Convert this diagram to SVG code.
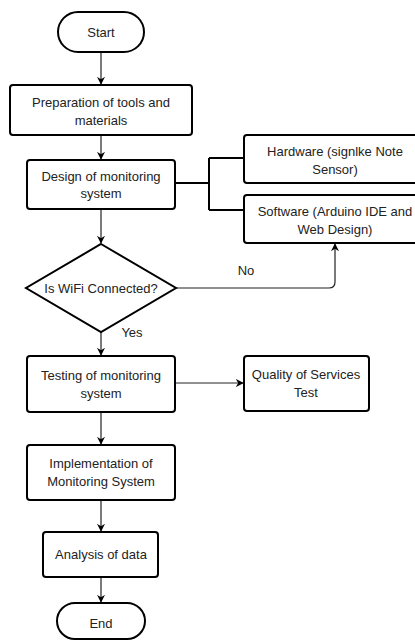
<svg xmlns="http://www.w3.org/2000/svg" width="415" height="641" viewBox="0 0 415 641">
<style>
.n{fill:#fff;stroke:#000;stroke-width:2}
.t{font-family:"Liberation Sans",Arial,sans-serif;font-size:13px;fill:#222;text-anchor:middle}
.c{fill:none;stroke:#222;stroke-width:1.2}
.b{fill:none;stroke:#000;stroke-width:2}
</style>
<defs>
<marker id="a" viewBox="0 0 10 10" refX="9" refY="5" markerWidth="8" markerHeight="8" markerUnits="userSpaceOnUse" orient="auto">
<path d="M0,0 L10,5 L0,10 L3,5 Z" fill="#000"/>
</marker>
</defs>
<rect width="415" height="641" fill="#fff"/>
<g id="connectors">
<path class="c" d="M101,52 V84" marker-end="url(#a)"/>
<path class="c" d="M101,135 V159" marker-end="url(#a)"/>
<path class="c" d="M101,209 V243" marker-end="url(#a)"/>
<path class="c" d="M101,332 V355" marker-end="url(#a)"/>
<path class="c" d="M101,412 V444" marker-end="url(#a)"/>
<path class="c" d="M101,500 V531" marker-end="url(#a)"/>
<path class="c" d="M101,577 V602" marker-end="url(#a)"/>
<path class="c" d="M175,383 H243" marker-end="url(#a)"/>
<path class="b" d="M175,183 H209 M209,158 V210 M209,158 H244 M209,210 H244"/>
<path class="c" d="M176,288 H329 Q335,288 335,282 V244" marker-end="url(#a)"/>
<text class="t" x="246" y="275">No</text>
<text class="t" x="132" y="337">Yes</text>
</g>
<g id="start"><rect class="n" x="58" y="12" width="86" height="40" rx="20"/><text class="t" x="101" y="37">Start</text></g>
<g id="prep"><rect class="n" x="10" y="85" width="182" height="50" rx="3"/><text class="t" x="101" y="107">Preparation of tools and</text><text class="t" x="101" y="125">materials</text></g>
<g id="design"><rect class="n" x="27" y="160" width="148" height="49" rx="3"/><text class="t" x="101" y="181">Design of monitoring</text><text class="t" x="101" y="198">system</text></g>
<g id="hardware"><rect class="n" x="244" y="135" width="182" height="48" rx="3"/><text class="t" x="335" y="156">Hardware (signlke Note</text><text class="t" x="335" y="174">Sensor)</text></g>
<g id="software"><rect class="n" x="244" y="195" width="182" height="48" rx="3"/><text class="t" x="335" y="216">Software (Arduino IDE and</text><text class="t" x="335" y="234">Web Design)</text></g>
<g id="wifi"><path class="n" d="M101,244 L176,288 L101,332 L26,288 Z"/><text class="t" x="101" y="293">Is WiFi Connected?</text></g>
<g id="testing"><rect class="n" x="27" y="356" width="148" height="56" rx="3"/><text class="t" x="101" y="380">Testing of monitoring</text><text class="t" x="101" y="398">system</text></g>
<g id="qos"><rect class="n" x="244" y="356" width="125" height="55" rx="3"/><text class="t" x="306" y="379">Quality of Services</text><text class="t" x="306" y="397">Test</text></g>
<g id="impl"><rect class="n" x="27" y="445" width="148" height="55" rx="3"/><text class="t" x="101" y="468">Implementation of</text><text class="t" x="101" y="486">Monitoring System</text></g>
<g id="analysis"><rect class="n" x="43" y="532" width="115" height="45" rx="3"/><text class="t" x="101" y="559">Analysis of data</text></g>
<g id="end"><rect class="n" x="57" y="603" width="88" height="36" rx="18"/><text class="t" x="101" y="628">End</text></g>
</svg>
